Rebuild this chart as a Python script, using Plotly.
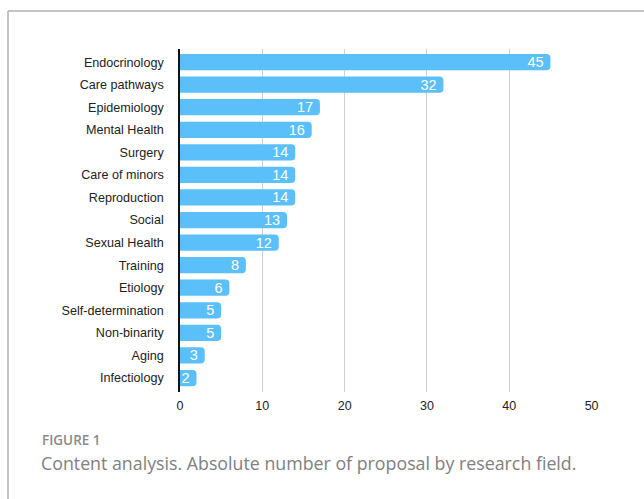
import plotly.graph_objects as go

categories = ["Endocrinology", "Care pathways", "Epidemiology", "Mental Health", "Surgery",
              "Care of minors", "Reproduction", "Social", "Sexual Health", "Training",
              "Etiology", "Self-determination", "Non-binarity", "Aging", "Infectiology"]
values = [45, 32, 17, 16, 14, 14, 14, 13, 12, 8, 6, 5, 5, 3, 2]
x_ticks = [0, 10, 20, 30, 40, 50]

W, H = 644, 499
L, R, T, B = 180, 52, 49, 107
pw, ph = W - L - R, H - T - B

def px_x(px):
    return (px - L) / pw

def px_y(py):
    return (H - B - py) / ph

fig = go.Figure(go.Bar(
    x=values, y=categories, orientation="h",
    marker=dict(color="#5BC0FA", cornerradius=4, line=dict(width=0)),
    text=[str(v) + "\u2009" for v in values], textposition="inside", insidetextanchor="end",
    textangle=0,
    textfont=dict(color="white", size=14.5, family="Liberation Sans, Arial"),
    constraintext="none", cliponaxis=False, width=0.72,
))

fig.update_layout(
    width=W, height=H, margin=dict(l=L, r=R, t=T, b=B, pad=0),
    paper_bgcolor="white", plot_bgcolor="white", showlegend=False,
    uniformtext=dict(minsize=14.5, mode="show"),
    font=dict(family="Liberation Sans, Arial", size=12, color="#222"),
    xaxis=dict(range=[0, 50.05], tickvals=x_ticks, showgrid=True, gridcolor="#cfcfcf",
               gridwidth=1, zeroline=False, showline=False, ticks="",
               ticklabelstandoff=4,
               tickfont=dict(size=12.5, color="#222")),
    yaxis=dict(categoryorder="array", categoryarray=categories,
               range=[14.62, -0.58], showline=True, linecolor="#111", linewidth=1.5,
               ticks="", ticklabelstandoff=12, showgrid=False,
               tickfont=dict(size=12.6, color="#222")),
    shapes=[
        dict(type="line", xref="paper", yref="paper", x0=px_x(8), x1=px_x(650),
             y0=px_y(11), y1=px_y(11), line=dict(color="#b0b0b0", width=1.5)),
        dict(type="line", xref="paper", yref="paper", x0=px_x(8), x1=px_x(8),
             y0=px_y(11), y1=px_y(505), line=dict(color="#b0b0b0", width=1.5)),
    ],
    annotations=[
        dict(text="FIGURE 1", xref="paper", yref="paper", x=px_x(39.5), y=px_y(440),
             xanchor="left", yanchor="middle", showarrow=False,
             font=dict(family="Open Sans", size=13.5, color="#8a8a8a", weight=600)),
        dict(text="Content analysis. Absolute number of proposal by research field.",
             xref="paper", yref="paper", x=px_x(39), y=px_y(463),
             xanchor="left", yanchor="middle", showarrow=False,
             font=dict(family="Open Sans", size=17.8, color="#808080")),
    ],
)

fig.write_html("out.html", config={"displayModeBar": False},
               post_script="document.body.style.margin='0';document.body.style.padding='0';")
